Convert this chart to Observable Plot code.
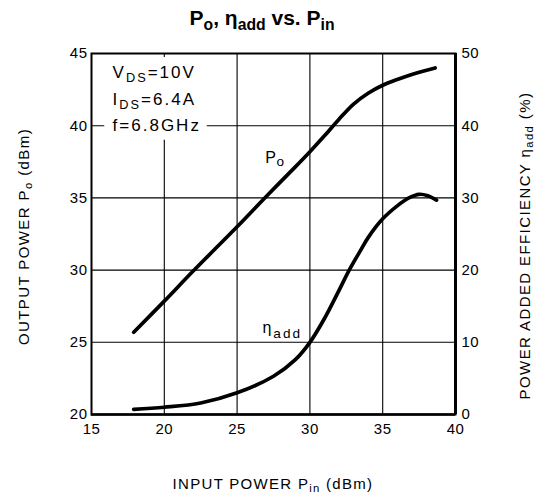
<!DOCTYPE html>
<html><head><meta charset="utf-8">
<script src="https://cdn.jsdelivr.net/npm/d3@7"></script>
<script src="https://cdn.jsdelivr.net/npm/@observablehq/plot@0.6"></script>
<style>
body{margin:0;background:#fff;font-family:"Liberation Sans",Arial,sans-serif;}
#title{height:40px;width:536px;position:relative;}
#title div{position:absolute;top:6px;left:-6px;width:536px;text-align:center;font-weight:bold;font-size:21px;line-height:24px;color:#000;}
#title .s{font-size:75%;position:relative;top:5px;}
#chart svg{display:block;}
</style></head><body>
<div id="title"><div>P<span class="s">o</span>, η<span class="s">add</span> vs. P<span class="s">in</span></div></div>
<div id="chart"></div>
<script>
// Output power Po (dBm) vs input power Pin (dBm)
const poPin = [17.9, 20, 22, 25, 27, 29, 30, 31, 32, 33, 34, 35, 36, 37, 38.6];
const poOut = [25.7, 27.85, 29.95, 33.0, 35.1, 37.15, 38.2, 39.3, 40.45, 41.5, 42.25, 42.8, 43.2, 43.55, 44.0];
// Power added efficiency (%) vs input power Pin (dBm)
const etaPin = [17.9, 20, 22.5, 25, 27.5, 29, 30, 31, 32, 32.7, 33.5, 34, 35, 36, 36.8, 37.5, 38.1, 38.7];
const etaVal = [0.7, 1.0, 1.6, 3.0, 5.3, 7.6, 10.0, 13.3, 17.2, 20.0, 22.8, 24.5, 27.1, 28.9, 30.0, 30.5, 30.3, 29.7];
// ticks
const xTicks = [15, 20, 25, 30, 35, 40];
const yTicksLeft = [20, 25, 30, 35, 40, 45];
const yTicksRight = [0, 10, 20, 30, 40, 50];
const xGrid = [20, 25, 30, 35];
const yGrid = [25, 30, 35, 40];
// annotation & curve labels
const annotText = ["VDS=10V", "IDS=6.4A", "f=6.8GHz"];
const annotX = [16.45, 16.45, 16.45];
const annotY = [43.66, 41.8, 39.98];
const curveLabelText = ["Po", "ηadd"];
const curveLabelX = [27.6, 28.1];
const curveLabelY = [37.8, 26.0];

// right axis (0..50 %) shares the left axis range (20..45 dBm)
const etaToY = e => 20 + e / 2;
const yToEta = y => Math.round((y - 20) * 2);

const po = poPin.map((x, i) => ({x, y: poOut[i]}));
const eta = etaPin.map((x, i) => ({x, y: etaToY(etaVal[i])}));
const annot = annotText.map((t, i) => ({t, x: annotX[i], y: annotY[i]}));
const curveLabels = curveLabelText.map((t, i) => ({t, x: curveLabelX[i], y: curveLabelY[i]}));

const plot = Plot.plot({
  width: 536, height: 458,
  marginLeft: 91, marginRight: 81, marginTop: 13, marginBottom: 84,
  x: {domain: [15, 40]},
  y: {domain: [20, 45]},
  style: {fontFamily: "'Liberation Sans', Arial, sans-serif", fontSize: "15px", color: "#000", background: "#fff", overflow: "visible"},
  marks: [
    Plot.gridX(xGrid, {stroke: "#000", strokeOpacity: 1, strokeWidth: 1.1}),
    Plot.gridY(yGrid, {stroke: "#000", strokeOpacity: 1, strokeWidth: 1.1}),
    Plot.axisX(xTicks, {tickSize: 0, tickPadding: 9, label: null, fontSize: 15}),
    Plot.axisY(yTicksLeft, {anchor: "left", tickSize: 0, tickPadding: 4, label: null, fontSize: 15}),
    Plot.axisY(yTicksRight.map(etaToY), {anchor: "right", tickSize: 0, tickPadding: 6, label: null, fontSize: 15, tickFormat: yToEta}),
    // white halo behind the annotation block
    Plot.text(annot, {x: "x", y: "y", text: "t", textAnchor: "start", fontSize: 17, fill: "#fff", stroke: "#fff", strokeWidth: 18}),
    Plot.text(annot, {x: "x", y: "y", text: "t", textAnchor: "start", fontSize: 17, fill: "#000"}),
    Plot.frame({stroke: "#000", strokeWidth: 2}),
    Plot.ruleX([40], {stroke: "#000", strokeWidth: 3}),
    Plot.ruleY([20], {stroke: "#000", strokeWidth: 2.5}),
    Plot.line(po, {x: "x", y: "y", curve: "catmull-rom", stroke: "#000", strokeWidth: 3.7}),
    Plot.line(eta, {x: "x", y: "y", curve: "catmull-rom", stroke: "#000", strokeWidth: 3.7}),
    Plot.text(curveLabels, {x: "x", y: "y", text: "t", textAnchor: "middle", fontSize: 16, fill: "#000"})
  ]
});
document.getElementById("chart").appendChild(plot);

// rich text (subscripts)
const rich = {
  "VDS=10V": 'V<tspan font-size="75%" dy="4">DS</tspan><tspan dy="-4">=10V</tspan>',
  "IDS=6.4A": 'I<tspan font-size="75%" dy="4">DS</tspan><tspan dy="-4">=6.4A</tspan>',
  "f=6.8GHz": 'f=6.8GHz',
  "Po": 'P<tspan font-size="85%" dy="3">o</tspan>',
  "ηadd": 'η<tspan font-size="85%" dy="5">add</tspan>'
};
d3.select(plot).selectAll("text").each(function() {
  const k = this.textContent;
  if (rich[k] !== undefined) {
    this.innerHTML = rich[k];
    this.setAttribute("letter-spacing", k.length > 3 ? "2" : "0.5");
  }
});
d3.select(plot).selectAll("g[aria-label^='y-axis'] text, g[aria-label^='x-axis'] text").attr("letter-spacing", "0.5");

// axis titles, placed relative to the scale ranges
const xs = plot.scale("x").range, ys = plot.scale("y").range;
const svg = d3.select(plot);
const xMid = (xs[0] + xs[1]) / 2, yMid = (ys[0] + ys[1]) / 2;
svg.append("text")
  .attr("transform", `translate(${xMid + 0},${ys[0] + 75})`)
  .attr("text-anchor", "middle").attr("font-size", 15).attr("letter-spacing", 1.3)
  .html('INPUT POWER P<tspan font-size="75%" dy="3">in</tspan><tspan dy="-3"> (dBm)</tspan>');
svg.append("text")
  .attr("transform", `translate(${xs[0] - 62},${yMid + 3}) rotate(-90)`)
  .attr("text-anchor", "middle").attr("font-size", 15).attr("letter-spacing", 1.4)
  .html('OUTPUT POWER P<tspan font-size="75%" dy="3">o</tspan><tspan dy="-3"> (dBm)</tspan>');
svg.append("text")
  .attr("transform", `translate(${xs[1] + 75},${yMid + 12}) rotate(-90)`)
  .attr("text-anchor", "middle").attr("font-size", 15).attr("letter-spacing", 1.4)
  .html('POWER ADDED EFFICIENCY η<tspan font-size="75%" dy="3">add</tspan><tspan dy="-3"> (%)</tspan>');
</script>
</body></html>
